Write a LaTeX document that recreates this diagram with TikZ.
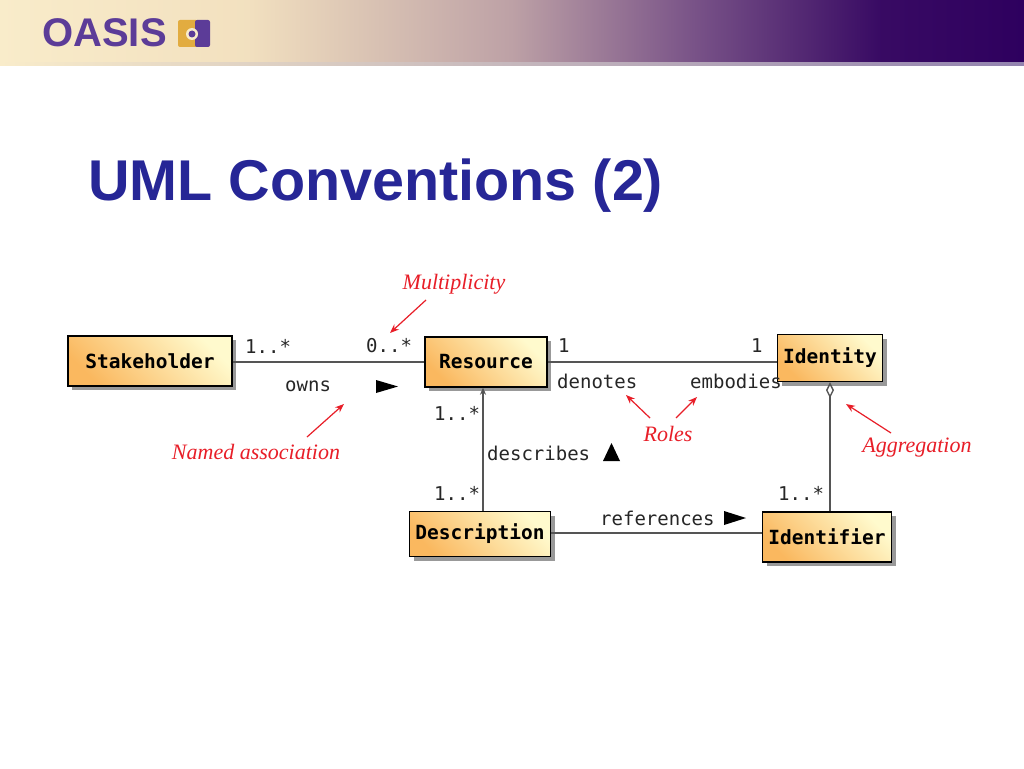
\documentclass[tikz,border=0pt]{standalone}
\usepackage{fontspec}
\setmainfont{Liberation Sans}
\newfontfamily\monof{DejaVu Sans Mono}
\newfontfamily\annf{Liberation Serif}
\usetikzlibrary{arrows.meta,shadows,calc}
\definecolor{titleblue}{RGB}{38,38,150}
\definecolor{annred}{RGB}{232,30,40}
\definecolor{logopurple}{RGB}{92,60,152}
\definecolor{logogold}{RGB}{226,172,64}
\definecolor{boxorange}{RGB}{250,184,95}
\definecolor{boxpale}{RGB}{255,250,205}
\definecolor{linegrey}{RGB}{85,85,85}
\definecolor{hdrcream}{RGB}{249,236,202}
\pgfdeclarehorizontalshading{hdrshade}{100bp}{rgb(0bp)=(0.976,0.925,0.792); rgb(25bp)=(0.976,0.925,0.792); rgb(37bp)=(0.95,0.88,0.75); rgb(50bp)=(0.74,0.63,0.65); rgb(59bp)=(0.47,0.32,0.53); rgb(68bp)=(0.22,0.04,0.39); rgb(75bp)=(0.18,0.0,0.37); rgb(100bp)=(0.18,0.0,0.37)}
\begin{document}
\begin{tikzpicture}[x=1pt,y=-1pt,
  cls/.style={draw=black, line width=1.4pt, left color=boxorange, right color=boxpale, shading angle=135,
    drop shadow={shadow xshift=4pt, shadow yshift=-4pt, fill=black!40, opacity=1},
    font=\monof\bfseries\fontsize{19.5}{22}\selectfont, inner sep=0pt},
  lbl/.style={font=\monof\fontsize{19}{21}\selectfont, text=black!85, inner sep=0pt, anchor=west},
  ann/.style={font=\annf\itshape\fontsize{22}{24}\selectfont, text=annred, inner sep=0pt},
  annarrow/.style={draw=annred, line width=1.2pt, -{Stealth[length=9pt,width=7pt]}},
  assoc/.style={draw=linegrey, line width=2pt},
  dirmark/.style={fill=black}
]
\useasboundingbox (0,0) rectangle (1024,768);
\fill[white] (0,0) rectangle (1024,768);
% header
\shade[shading=hdrshade] (0,0) rectangle (1024,62);
\shade[left color=hdrcream, right color=black!20!logopurple!60] (0,62) rectangle (1024,65);
% logo
\node[anchor=base west, inner sep=0pt, text=logopurple, font=\bfseries\fontsize{40}{42}\selectfont] (logo) at (42,47) {OASIS};
\fill[logogold, rounded corners=2pt] (178,20) rectangle (198,47);
\fill[logopurple, rounded corners=2pt] (195,20) rectangle (210,47);
\fill[hdrcream] (192,34) circle (6);
\fill[logopurple] (192,34) circle (3.5);
% title
\node[anchor=base west, inner sep=0pt, text=titleblue, font=\bfseries\fontsize{57.5}{60}\selectfont] (title) at (88,200) {UML Conventions (2)};
% classes
\node[cls, minimum width=164pt, minimum height=50pt] (st) at (150,361) {Stakeholder};
\node[cls, minimum width=122pt, minimum height=50pt] (res) at (486,362) {Resource};
\node[cls, minimum width=105pt, minimum height=47pt] (id) at (830,358) {Identity};
\node[cls, minimum width=141pt, minimum height=45pt] (desc) at (480,534) {Description};
\node[cls, minimum width=129pt, minimum height=50pt] (idf) at (827,537) {Identifier};
% associations
\draw[assoc] (st.east |- 0,362) -- (res.west |- 0,362);
\draw[assoc] (res.east |- 0,362) -- (id.west |- 0,362);
\draw[assoc, -{Stealth[length=7pt,width=6pt]}] ([xshift=3pt]desc.north) -- ([xshift=3pt]desc.north |- res.south);
\draw[assoc, {Diamond[open, length=16pt, width=8pt, line width=1.4pt]}-] (id.south) -- (id.south |- idf.north);
\draw[assoc] (desc.east |- 0,533) -- (idf.west |- 0,533);
% labels
\node[lbl] (m1) at (245,346) {1..*};
\node[lbl] (m2) at (366,346) {0..*};
\node[lbl] (owns) at (285,386) {owns};
\fill[dirmark] (376,380) -- (398,386.5) -- (376,393) -- cycle;
\node[lbl] (m3) at (558,346) {1};
\node[lbl] (m4) at (751,346) {1};
\node[lbl] (denotes) at (557,381) {denotes};
\node[lbl] (embodies) at (690,381) {embodies};
\node[lbl] (m5) at (434,413) {1..*};
\node[lbl] (describes) at (487,453) {describes};
\fill[dirmark] (603,461) -- (611.5,443) -- (620,461) -- cycle;
\node[lbl] (m6) at (434,493) {1..*};
\node[lbl] (m7) at (778,493) {1..*};
\node[lbl] (references) at (600,518) {references};
\fill[dirmark] (724,511) -- (746,518) -- (724,525) -- cycle;
% annotations
\node[ann] (mult) at (454,284) {Multiplicity};
\node[ann] (named) at (256,452) {Named association};
\node[ann] (roles) at (668,434) {Roles};
\node[ann] (aggr) at (917,448) {Aggregation};
\coordinate (multT) at (426,300);
\coordinate (multH) at (390,333);
\coordinate (namedT) at (307,437);
\coordinate (namedH) at (344,404);
\coordinate (rolesT1) at (650,418);
\coordinate (rolesH1) at (626,395);
\coordinate (rolesT2) at (676,418);
\coordinate (rolesH2) at (697,397);
\coordinate (aggrT) at (891,433);
\coordinate (aggrH) at (846,404);
\draw[annarrow] (multT) -- (multH);
\draw[annarrow] (namedT) -- (namedH);
\draw[annarrow] (rolesT1) -- (rolesH1);
\draw[annarrow] (rolesT2) -- (rolesH2);
\draw[annarrow] (aggrT) -- (aggrH);
\end{tikzpicture}
\end{document}
